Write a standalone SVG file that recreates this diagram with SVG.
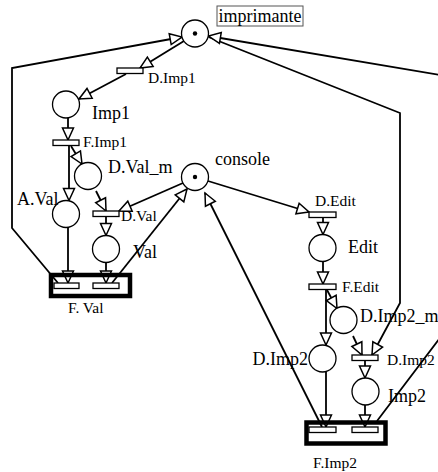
<svg xmlns="http://www.w3.org/2000/svg" width="438" height="472" viewBox="0 0 438 472" font-family="'Liberation Serif','Times New Roman',serif">
<style>
.pl{fill:#fff;stroke:#000;stroke-width:1.3}
.tr{fill:#fff;stroke:#000;stroke-width:1.3}
.mac{fill:none;stroke:#000;stroke-width:4.5}
.tok{fill:#000}
.arc{fill:none;stroke:#000;stroke-width:1.8;stroke-linejoin:miter}
.ah{marker-end:url(#arr)}
text{font-family:"Liberation Serif","Times New Roman",serif;fill:#000}
.pt{font-size:18px}
.tt{font-size:15.5px}
</style>
<defs>
<marker id="arr" markerUnits="userSpaceOnUse" markerWidth="15" markerHeight="13" refX="13" refY="6.5" orient="auto" overflow="visible">
<path d="M1,1 L13,6.5 L1,12 Z" fill="#fff" stroke="#000" stroke-width="1.5"/>
</marker>
</defs>
<g id="connectors">
<polyline class="arc ah" points="58,283 12,228 12,68 182,37"/>
<line class="arc ah" x1="184" y1="41" x2="140" y2="68"/>
<line class="arc ah" x1="126" y1="74" x2="79" y2="99"/>
<line class="arc ah" x1="68" y1="118" x2="68" y2="140"/>
<line class="arc ah" x1="69" y1="145" x2="69" y2="200.5"/>
<line class="arc ah" x1="71" y1="146" x2="82" y2="164"/>
<line class="arc ah" x1="96" y1="191" x2="106" y2="211"/>
<line class="arc ah" x1="183" y1="183" x2="119" y2="211"/>
<line class="arc ah" x1="106" y1="217" x2="106" y2="235.5"/>
<line class="arc ah" x1="68" y1="228" x2="68" y2="283"/>
<line class="arc ah" x1="106" y1="262" x2="106" y2="283"/>
<line class="arc ah" x1="112" y1="283" x2="187" y2="189"/>
<line class="arc ah" x1="208" y1="181" x2="309" y2="212"/>
<line class="arc ah" x1="323" y1="217" x2="323" y2="234.5"/>
<line class="arc ah" x1="323" y1="261.5" x2="323" y2="284"/>
<line class="arc ah" x1="327" y1="290" x2="337" y2="308.5"/>
<line class="arc ah" x1="326" y1="289" x2="326" y2="345"/>
<line class="arc ah" x1="353" y1="336" x2="362" y2="355"/>
<polyline class="arc ah" points="208.5,37 400,113 400,303 372,355"/>
<polyline class="arc ah" points="377,421 446,330 446,76 208.5,36"/>
<line class="arc ah" x1="365" y1="361" x2="365" y2="378"/>
<line class="arc ah" x1="365" y1="405" x2="365" y2="427"/>
<line class="arc ah" x1="326" y1="372" x2="326" y2="427"/>
<line class="arc ah" x1="322" y1="427" x2="205" y2="193"/>
</g>
<g id="imprimante">
<circle class="pl" cx="195" cy="33.5" r="13.5"/>
<circle class="tok" cx="195" cy="33.5" r="2.2"/>
<rect x="217" y="6" width="86" height="20" fill="#fff" stroke="#555" stroke-width="1"/>
<text class="pt" x="218.5" y="22">imprimante</text>
</g>
<g id="D.Imp1">
<rect class="tr" x="117" y="68" width="26" height="5.5"/>
<text class="tt" x="148" y="83">D.Imp1</text>
</g>
<g id="Imp1">
<circle class="pl" cx="66" cy="104.5" r="13.5"/>
<text class="pt" x="92" y="119">Imp1</text>
</g>
<g id="F.Imp1">
<rect class="tr" x="53" y="140" width="26" height="5.5"/>
<text class="tt" x="83" y="147">F.Imp1</text>
</g>
<g id="D.Val_m">
<circle class="pl" cx="88" cy="176" r="13.5"/>
<text class="pt" x="108" y="173">D.Val_m</text>
</g>
<g id="A.Val">
<circle class="pl" cx="66" cy="214" r="13.5"/>
<text class="pt" x="17" y="205">A.Val</text>
</g>
<g id="D.Val">
<rect class="tr" x="93" y="211" width="26" height="5.5"/>
<text class="tt" x="121" y="221">D.Val</text>
</g>
<g id="Val">
<circle class="pl" cx="106" cy="249" r="13.5"/>
<text class="pt" x="133" y="258">Val</text>
</g>
<g id="F.Val">
<rect class="mac" x="51" y="275" width="79" height="21"/>
<rect class="tr" x="54" y="283" width="25" height="5.5"/>
<rect class="tr" x="93" y="283" width="26" height="5.5"/>
<text class="tt" x="68" y="313">F. Val</text>
</g>
<g id="console">
<circle class="pl" cx="195" cy="177" r="13.5"/>
<circle class="tok" cx="195" cy="177" r="2.2"/>
<text class="pt" x="215" y="165">console</text>
</g>
<g id="D.Edit">
<rect class="tr" x="309" y="212" width="27" height="5.5"/>
<text class="tt" x="315" y="206">D.Edit</text>
</g>
<g id="Edit">
<circle class="pl" cx="322.5" cy="248" r="13.5"/>
<text class="pt" x="348" y="253">Edit</text>
</g>
<g id="F.Edit">
<rect class="tr" x="309" y="284" width="27" height="5.5"/>
<text class="tt" x="342" y="292">F.Edit</text>
</g>
<g id="D.Imp2_m">
<circle class="pl" cx="343.5" cy="320" r="13.5"/>
<text class="pt" x="360" y="322">D.Imp2_m</text>
</g>
<g id="D.Imp2_place">
<circle class="pl" cx="322.5" cy="358.5" r="13.5"/>
<text class="pt" x="308" y="365" text-anchor="end">D.Imp2</text>
</g>
<g id="D.Imp2_trans">
<rect class="tr" x="352" y="355" width="26" height="5.5"/>
<text class="tt" x="387" y="365">D.Imp2</text>
</g>
<g id="Imp2">
<circle class="pl" cx="365.5" cy="391.5" r="13.5"/>
<text class="pt" x="388" y="402">Imp2</text>
</g>
<g id="F.Imp2">
<rect class="mac" x="306.5" y="422.5" width="79" height="21"/>
<rect class="tr" x="309" y="427" width="27" height="5.5"/>
<rect class="tr" x="352" y="427" width="26" height="5.5"/>
<text class="tt" x="313" y="468">F.Imp2</text>
</g>
</svg>
